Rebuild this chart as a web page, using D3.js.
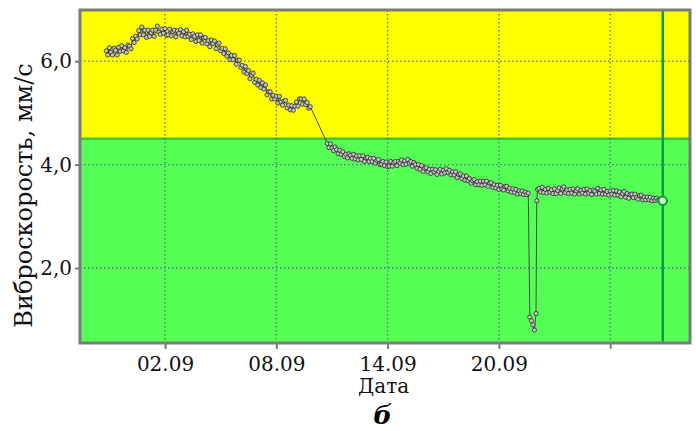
<!DOCTYPE html>
<html>
<head>
<meta charset="utf-8">
<script src="https://cdn.jsdelivr.net/npm/d3@7"></script>
<style>
  body { margin: 0; background: #ffffff; }
</style>
</head>
<body>
<div class="chartDiv"></div>
<script>

// -----------------------Data--------------------------------//

let xTickDates = ["02.09.2020 00:00", "08.09.2020 00:00", "14.09.2020 00:00", "20.09.2020 00:00", "26.09.2020 00:00"]
let xTickLabels = ["02.09", "08.09", "14.09", "20.09", ""]
let yTicks = [2, 4, 6]
let yTickLabels = ["2,0", "4,0", "6,0"]
let xRange = ["28.08.2020 10:00", "30.09.2020 07:15"]
let yRange = [0.55, 6.99]
let zoneLimit = 4.5

// readings before the gap (every 2 h)
let run1Start = "29.08.2020 20:00"
let run1Values = [6.20, 6.12, 6.26, 6.17, 6.12, 6.25, 6.21, 6.12, 6.27, 6.19,
                  6.30, 6.20, 6.26, 6.17, 6.31, 6.29, 6.24, 6.44, 6.36, 6.48,
                  6.43, 6.59, 6.51, 6.66, 6.51, 6.60, 6.46, 6.60, 6.48, 6.55,
                  6.60, 6.48, 6.60, 6.68, 6.56, 6.52, 6.62, 6.54, 6.63, 6.50,
                  6.51, 6.62, 6.49, 6.57, 6.60, 6.47, 6.59, 6.54, 6.61, 6.49,
                  6.57, 6.47, 6.60, 6.48, 6.52, 6.42, 6.53, 6.48, 6.38, 6.51,
                  6.40, 6.51, 6.35, 6.45, 6.46, 6.34, 6.40, 6.28, 6.41, 6.34,
                  6.39, 6.24, 6.32, 6.35, 6.20, 6.25, 6.15, 6.24, 6.10, 6.16,
                  6.03, 6.11, 6.03, 6.11, 5.94, 6.02, 6.02, 5.88, 5.92, 5.79,
                  5.90, 5.76, 5.82, 5.66, 5.73, 5.77, 5.59, 5.65, 5.54, 5.63,
                  5.49, 5.58, 5.46, 5.54, 5.35, 5.41, 5.41, 5.27, 5.34, 5.27,
                  5.32, 5.19, 5.32, 5.21, 5.15, 5.23, 5.24, 5.10, 5.15, 5.06,
                  5.14, 5.05, 5.13, 5.21, 5.13, 5.27, 5.27, 5.17, 5.27, 5.16,
                  5.20, 5.09, 5.12]

// readings after the gap (every 2 h)
let run2Start = "10.09.2020 18:00"
let run2Values = [4.41, 4.33, 4.40, 4.32, 4.27, 4.34, 4.29, 4.21, 4.28, 4.20,
                  4.25, 4.16, 4.20, 4.13, 4.21, 4.18, 4.12, 4.20, 4.11, 4.17,
                  4.09, 4.17, 4.10, 4.17, 4.06, 4.13, 4.14, 4.06, 4.12, 4.06,
                  4.12, 4.03, 4.08, 4.10, 4.00, 4.01, 4.06, 3.98, 4.05, 3.96,
                  3.97, 4.06, 3.97, 4.04, 4.06, 3.98, 4.06, 4.03, 4.09, 4.00,
                  4.07, 4.01, 4.10, 4.03, 4.06, 3.97, 4.04, 4.00, 3.93, 4.00,
                  3.91, 3.98, 3.87, 3.93, 3.94, 3.86, 3.91, 3.83, 3.91, 3.86,
                  3.90, 3.81, 3.87, 3.91, 3.82, 3.89, 3.84, 3.92, 3.85, 3.89,
                  3.80, 3.86, 3.80, 3.86, 3.75, 3.81, 3.82, 3.73, 3.78, 3.70,
                  3.78, 3.69, 3.73, 3.64, 3.69, 3.71, 3.61, 3.67, 3.61, 3.68,
                  3.60, 3.68, 3.61, 3.68, 3.58, 3.64, 3.65, 3.56, 3.61, 3.55,
                  3.60, 3.52, 3.60, 3.53, 3.51, 3.58, 3.58, 3.49, 3.54, 3.47,
                  3.53, 3.46, 3.52, 3.43, 3.49, 3.44, 3.49, 3.42, 3.47, 3.42,
                  3.45]

// the dip
let dipTimes = ["21.09.2020 16:00", "21.09.2020 18:00", "21.09.2020 20:00", "21.09.2020 22:00",
                "22.09.2020 00:00", "22.09.2020 01:00", "22.09.2020 02:00"]
let dipValues = [1.05, 0.98, 0.9, 0.8, 1.12, 3.3, 3.52]

// last run (every 2 h)
let run3Start = "22.09.2020 04:00"
let run3Values = [3.54, 3.47, 3.56, 3.46, 3.52, 3.45, 3.54, 3.47, 3.51, 3.44,
                  3.53, 3.44, 3.50, 3.55, 3.44, 3.53, 3.57, 3.46, 3.51, 3.44,
                  3.52, 3.45, 3.53, 3.43, 3.49, 3.53, 3.43, 3.50, 3.45, 3.52,
                  3.43, 3.53, 3.45, 3.50, 3.42, 3.51, 3.48, 3.43, 3.54, 3.44,
                  3.51, 3.43, 3.52, 3.43, 3.48, 3.41, 3.49, 3.43, 3.50, 3.41,
                  3.49, 3.41, 3.47, 3.38, 3.44, 3.48, 3.37, 3.44, 3.35, 3.42,
                  3.43, 3.36, 3.43, 3.36, 3.33, 3.40, 3.41, 3.32, 3.37, 3.32,
                  3.37, 3.32, 3.37, 3.30, 3.35, 3.31, 3.35, 3.31, 3.33, 3.30,
                  3.30]

// -----------------------Setup--------------------------------//

let parseTime = d3.timeParse("%d.%m.%Y %H:%M")

function run(start, stepHours, values) {
    let t0 = parseTime(start)
    return values.map((v, i) => ({t: d3.timeHour.offset(t0, i * stepHours), v: v}))
}

let points = run(run1Start, 2, run1Values)
    .concat(run(run2Start, 2, run2Values))
    .concat(dipTimes.map((s, i) => ({t: parseTime(s), v: dipValues[i]})))
    .concat(run(run3Start, 2, run3Values))

let lastPoint = points[points.length - 1]

let margin = {top: 10, right: 6, bottom: 88, left: 80},
    width = 696 - margin.left - margin.right,
    height = 431 - margin.top - margin.bottom

let x = d3.scaleTime().domain(xRange.map(parseTime)).range([0, width])
let y = d3.scaleLinear().domain(yRange).range([height, 0])

let svg = d3.select(".chartDiv").append("svg")
    .attr("width", 696)
    .attr("height", 431)
    .style("display", "block")
  .append("g")
    .attr("transform", "translate(" + margin.left + "," + margin.top + ")")

let serif = "'DejaVu Serif', serif"

// zones
svg.append("rect")
    .attr("x", 0).attr("y", 0)
    .attr("width", width)
    .attr("height", y(zoneLimit))
    .attr("fill", "#ffff00")

svg.append("rect")
    .attr("x", 0).attr("y", y(zoneLimit))
    .attr("width", width)
    .attr("height", height - y(zoneLimit))
    .attr("fill", "#55ff55")

svg.append("line")
    .attr("x1", 0).attr("x2", width)
    .attr("y1", y(zoneLimit)).attr("y2", y(zoneLimit))
    .attr("stroke", "#3fc43f")
    .attr("stroke-width", 2.5)

// grid
let xTickTimes = xTickDates.map(parseTime)

svg.selectAll(".hgrid").data(yTicks).enter().append("line")
    .attr("class", "hgrid")
    .attr("x1", 0).attr("x2", width)
    .attr("y1", d => y(d)).attr("y2", d => y(d))
    .attr("stroke", "#55708f")
    .attr("stroke-width", 1.3)
    .attr("stroke-dasharray", "1.5,2.5")

svg.selectAll(".vgrid").data(xTickTimes).enter().append("line")
    .attr("class", "vgrid")
    .attr("x1", d => x(d)).attr("x2", d => x(d))
    .attr("y1", 0).attr("y2", height)
    .attr("stroke", "#55708f")
    .attr("stroke-width", 1.3)
    .attr("stroke-dasharray", "1.5,2.5")

// current position marker
svg.append("line")
    .attr("x1", x(lastPoint.t)).attr("x2", x(lastPoint.t))
    .attr("y1", 0).attr("y2", height)
    .attr("stroke", "#0f9a3a")
    .attr("stroke-width", 2.5)

// data line + points
let line = d3.line().x(d => x(d.t)).y(d => y(d.v))

svg.append("path")
    .datum(points)
    .attr("d", line)
    .attr("fill", "none")
    .attr("stroke", "#4a4a4a")
    .attr("stroke-width", 1)

svg.selectAll(".pt").data(points).enter().append("circle")
    .attr("class", "pt")
    .attr("cx", d => x(d.t))
    .attr("cy", d => y(d.v))
    .attr("r", 2.1)
    .attr("fill", "#c4c4c4")
    .attr("stroke", "#2a2a2a")
    .attr("stroke-width", 0.8)

svg.append("circle")
    .attr("cx", x(lastPoint.t))
    .attr("cy", y(lastPoint.v))
    .attr("r", 4.2)
    .attr("fill", "#b8ffb8")
    .attr("stroke", "#0f9a3a")
    .attr("stroke-width", 2)

// frame
svg.append("rect")
    .attr("x", 0).attr("y", 0)
    .attr("width", width).attr("height", height)
    .attr("fill", "none")
    .attr("stroke", "#7a7a7a")
    .attr("stroke-width", 3)

// axes
let xAxis = d3.axisBottom(x)
    .tickValues(xTickTimes)
    .tickSize(6)
    .tickPadding(8)
    .tickFormat((d, i) => xTickLabels[i])

let yAxis = d3.axisLeft(y)
    .tickValues(yTicks)
    .tickSize(5)
    .tickPadding(3)
    .tickFormat((d, i) => yTickLabels[i])

let gx = svg.append("g")
    .attr("transform", "translate(0," + height + ")")
    .call(xAxis)
let gy = svg.append("g").call(yAxis)

;[gx, gy].forEach(g => {
    g.select(".domain").remove()
    g.selectAll(".tick line").attr("stroke", "#7a7a7a").attr("stroke-width", 2)
    g.selectAll(".tick text")
        .attr("fill", "#111")
        .style("font-family", serif)
        .style("font-size", "20px")
})

// titles
svg.append("text")
    .attr("x", x(xTickTimes[2]) - 4)
    .attr("y", height + 50)
    .attr("text-anchor", "middle")
    .style("font-family", serif)
    .style("font-size", "20px")
    .attr("fill", "#111")
    .text("Дата")

svg.append("text")
    .attr("transform", "translate(" + (-48) + "," + (height / 2 + 19) + ") rotate(-90)")
    .attr("text-anchor", "middle")
    .style("font-family", serif)
    .style("font-size", "24px")
    .attr("fill", "#111")
    .text("Виброскорость, мм/с")

svg.append("text")
    .attr("x", x(xTickTimes[2]) - 5)
    .attr("y", height + 81)
    .attr("text-anchor", "middle")
    .style("font-family", serif)
    .style("font-size", "26px")
    .style("font-weight", "bold")
    .style("font-style", "italic")
    .attr("fill", "#000")
    .text("б")

</script>
</body>
</html>
